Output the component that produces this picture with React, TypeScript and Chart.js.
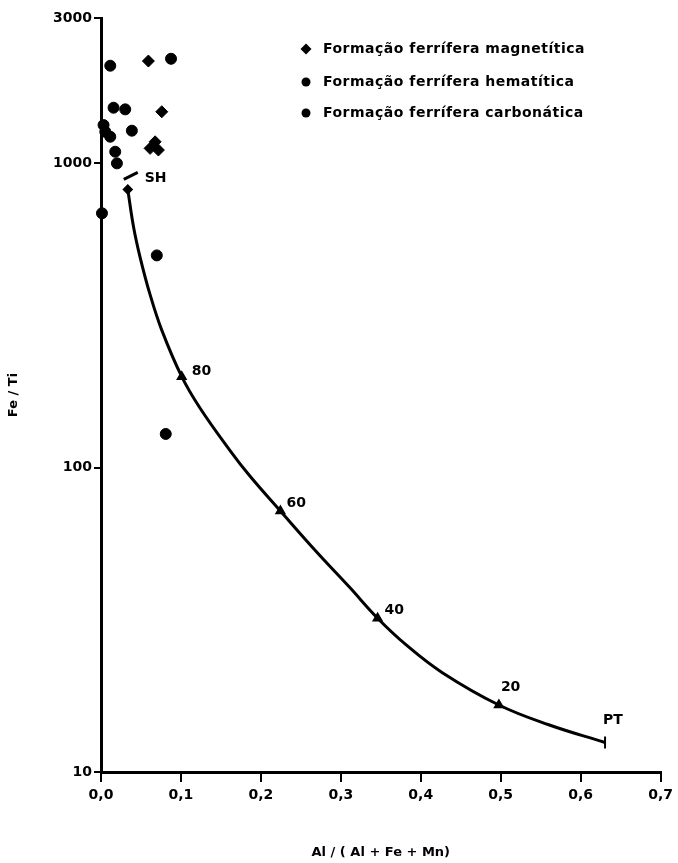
import { useEffect, useRef } from 'react';
import { Chart, registerables } from 'chart.js';

Chart.register(...registerables);

// ---------- data ----------
const xTickValues = [0, 0.1, 0.2, 0.3, 0.4, 0.5, 0.6, 0.7];
const xTickLabels = ['0,0', '0,1', '0,2', '0,3', '0,4', '0,5', '0,6', '0,7'];
const yTickValues = [10, 100, 1000, 3000];
const yTickLabels = ['10', '100', '1000', '3000'];

const magnetiticaX = [0.0593, 0.076, 0.0677, 0.0614, 0.0718];
const magnetiticaY = [2166, 1476, 1176, 1119, 1105];

const hematiticaX = [0.0116, 0.0876, 0.0157, 0.0303, 0.0386, 0.0698, 0.081];
const hematiticaY = [2091, 2204, 1522, 1503, 1279, 498, 129];

const carbonaticaX = [0.0032, 0.0054, 0.0116, 0.0178, 0.0199, 0.0012];
const carbonaticaY = [1335, 1269, 1222, 1091, 999, 685];

const curveX = [0.0335, 0.0406, 0.049, 0.0614, 0.076, 0.101, 0.1238, 0.1612, 0.186, 0.2244, 0.2692, 0.3107, 0.346, 0.3814, 0.427, 0.4977, 0.56, 0.6305];
const curveY = [820, 620, 490, 370, 283, 199, 157, 114, 94, 72, 53, 40.5, 32, 26.2, 21.2, 16.6, 14.3, 12.5];
const curveMarkIndex = [0, 5, 9, 12, 15, 17];
const curveMarkLabels = ['SH', '80', '60', '40', '20', 'PT'];

const legendLabels = [
  'Formação ferrífera magnetítica',
  'Formação ferrífera hematítica',
  'Formação ferrífera carbonática',
];
const xTitle = 'Al / ( Al + Fe + Mn)';
const yTitle = 'Fe / Ti';

// ---------- styles ----------
const FONT = '"DejaVu Sans", "Liberation Sans", sans-serif';
const markLabelOffsets = [
  [17, -11],
  [10, -5],
  [6, -8],
  [7, -8],
  [2, -18],
  [-2, -22],
];
const legendPos = { markerX: 306, textX: 323, rowY: [49, 82, 113], firstRowWidth: 262 };

const toPts = (xs: number[], ys: number[]) => xs.map((x, i) => ({ x, y: ys[i] }));

const overlayPlugin = {
  id: 'overlay',
  afterDatasetsDraw(chart: any) {
    const ctx = chart.ctx as CanvasRenderingContext2D;
    const xs = chart.scales.x;
    const ys = chart.scales.y;
    ctx.save();
    ctx.fillStyle = '#000';
    ctx.strokeStyle = '#000';
    // curve labels
    ctx.font = `bold 14px ${FONT}`;
    ctx.textBaseline = 'middle';
    ctx.textAlign = 'left';
    curveMarkIndex.forEach((idx, i) => {
      const px = xs.getPixelForValue(curveX[idx]);
      const py = ys.getPixelForValue(curveY[idx]);
      ctx.fillText(curveMarkLabels[i], px + markLabelOffsets[i][0], py + markLabelOffsets[i][1]);
    });
    // SH tick
    const shx = xs.getPixelForValue(curveX[0]);
    const shy = ys.getPixelForValue(curveY[0]);
    ctx.lineWidth = 3;
    ctx.beginPath();
    ctx.moveTo(shx - 4, shy - 10);
    ctx.lineTo(shx + 10, shy - 17);
    ctx.stroke();
    // legend
    ctx.font = `bold 14px ${FONT}`;
    const w0 = ctx.measureText(legendLabels[0]).width;
    const spacing = Math.max(0, (legendPos.firstRowWidth - w0) / legendLabels[0].length);
    (ctx as any).letterSpacing = `${spacing.toFixed(2)}px`;
    legendLabels.forEach((label, i) => {
      const y = legendPos.rowY[i];
      const mx = legendPos.markerX;
      ctx.beginPath();
      if (i === 0) {
        ctx.moveTo(mx, y - 5.5);
        ctx.lineTo(mx + 5.5, y);
        ctx.lineTo(mx, y + 5.5);
        ctx.lineTo(mx - 5.5, y);
        ctx.closePath();
      } else {
        ctx.arc(mx, y, 4.5, 0, Math.PI * 2);
      }
      ctx.fill();
      ctx.fillText(label, legendPos.textX, y);
    });
    ctx.restore();
  },
};

export default function App() {
  const ref = useRef<HTMLCanvasElement | null>(null);

  useEffect(() => {
    document.body.style.margin = '0';
    const canvas = ref.current;
    if (!canvas) return;

    const scatterCommon = {
      showLine: false,
      borderColor: '#000',
      backgroundColor: '#000',
      pointRadius: 5.5,
      pointHoverRadius: 5.5,
      clip: false as any,
    };

    const tickFont = { family: FONT, size: 14, weight: 'bold' };

    const chart = new Chart(canvas, {
      type: 'scatter',
      data: {
        datasets: [
          {
            label: legendLabels[0],
            data: toPts(magnetiticaX, magnetiticaY),
            ...scatterCommon,
            pointStyle: 'rectRot',
            pointRadius: 6,
          },
          {
            label: legendLabels[1],
            data: toPts(hematiticaX, hematiticaY),
            ...scatterCommon,
            pointStyle: 'circle',
          },
          {
            label: legendLabels[2],
            data: toPts(carbonaticaX, carbonaticaY),
            ...scatterCommon,
            pointStyle: 'circle',
          },
          {
            label: 'curve',
            data: toPts(curveX, curveY),
            showLine: true,
            borderColor: '#000',
            backgroundColor: '#000',
            borderWidth: 3,
            tension: 0.4,
            pointRadius: (c: any) => {
              const k = curveMarkIndex.indexOf(c.dataIndex);
              if (k < 0) return 0;
              return k === 0 ? 4 : k === curveMarkIndex.length - 1 ? 6 : 4.5;
            },
            pointStyle: (c: any) => {
              const k = curveMarkIndex.indexOf(c.dataIndex);
              if (k === 0) return 'rectRot';
              if (k === curveMarkIndex.length - 1) return 'line';
              return 'triangle';
            },
            rotation: (c: any) => (c.dataIndex === curveMarkIndex[curveMarkIndex.length - 1] ? 90 : 0),
            pointBorderWidth: 2,
            clip: false as any,
          } as any,
        ],
      },
      options: {
        responsive: false,
        animation: false,
        devicePixelRatio: 1,
        layout: { padding: { left: 0, right: 16, top: 18, bottom: 0 } },
        plugins: {
          legend: { display: false },
          tooltip: { enabled: false },
          title: { display: false },
        },
        scales: {
          x: {
            type: 'linear',
            min: 0,
            max: 0.7,
            afterBuildTicks: (s: any) => {
              s.ticks = xTickValues.map((v) => ({ value: v }));
            },
            afterFit: (s: any) => {
              s.height = 91;
            },
            ticks: {
              callback: (v: any) => {
                const i = xTickValues.findIndex((t) => Math.abs(t - Number(v)) < 1e-9);
                return i >= 0 ? xTickLabels[i] : '';
              },
              color: '#000',
              font: tickFont,
              padding: 5,
              maxRotation: 0,
              autoSkip: false,
            },
            grid: {
              display: true,
              drawOnChartArea: false,
              drawTicks: true,
              tickLength: 10,
              color: '#000',
              lineWidth: 2,
            },
            border: { display: true, color: '#000', width: 3 },
            title: {
              display: true,
              text: xTitle,
              color: '#000',
              font: { family: FONT, size: 13, weight: 'bold' },
              padding: { top: 0, bottom: 3 },
            },
          },
          y: {
            type: 'logarithmic',
            min: 10,
            max: 3000,
            afterBuildTicks: (s: any) => {
              s.ticks = yTickValues.map((v) => ({ value: v }));
            },
            afterFit: (s: any) => {
              s.width = 101;
            },
            ticks: {
              callback: (v: any) => {
                const i = yTickValues.indexOf(Number(v));
                return i >= 0 ? yTickLabels[i] : '';
              },
              color: '#000',
              font: tickFont,
              padding: 2,
              autoSkip: false,
            },
            grid: {
              display: true,
              drawOnChartArea: false,
              drawTicks: true,
              tickLength: 7,
              color: '#000',
              lineWidth: 2,
            },
            border: { display: true, color: '#000', width: 3 },
            title: {
              display: true,
              text: yTitle,
              color: '#000',
              font: { family: FONT, size: 13, weight: 'bold' },
              padding: { top: 6, bottom: 0 },
            },
          },
        },
      } as any,
      plugins: [overlayPlugin],
    });

    return () => chart.destroy();
  }, []);

  return (
    <div style={{ width: 678, height: 863, background: '#fff' }}>
      <canvas ref={ref} width={678} height={863} style={{ display: 'block' }} />
    </div>
  );
}
